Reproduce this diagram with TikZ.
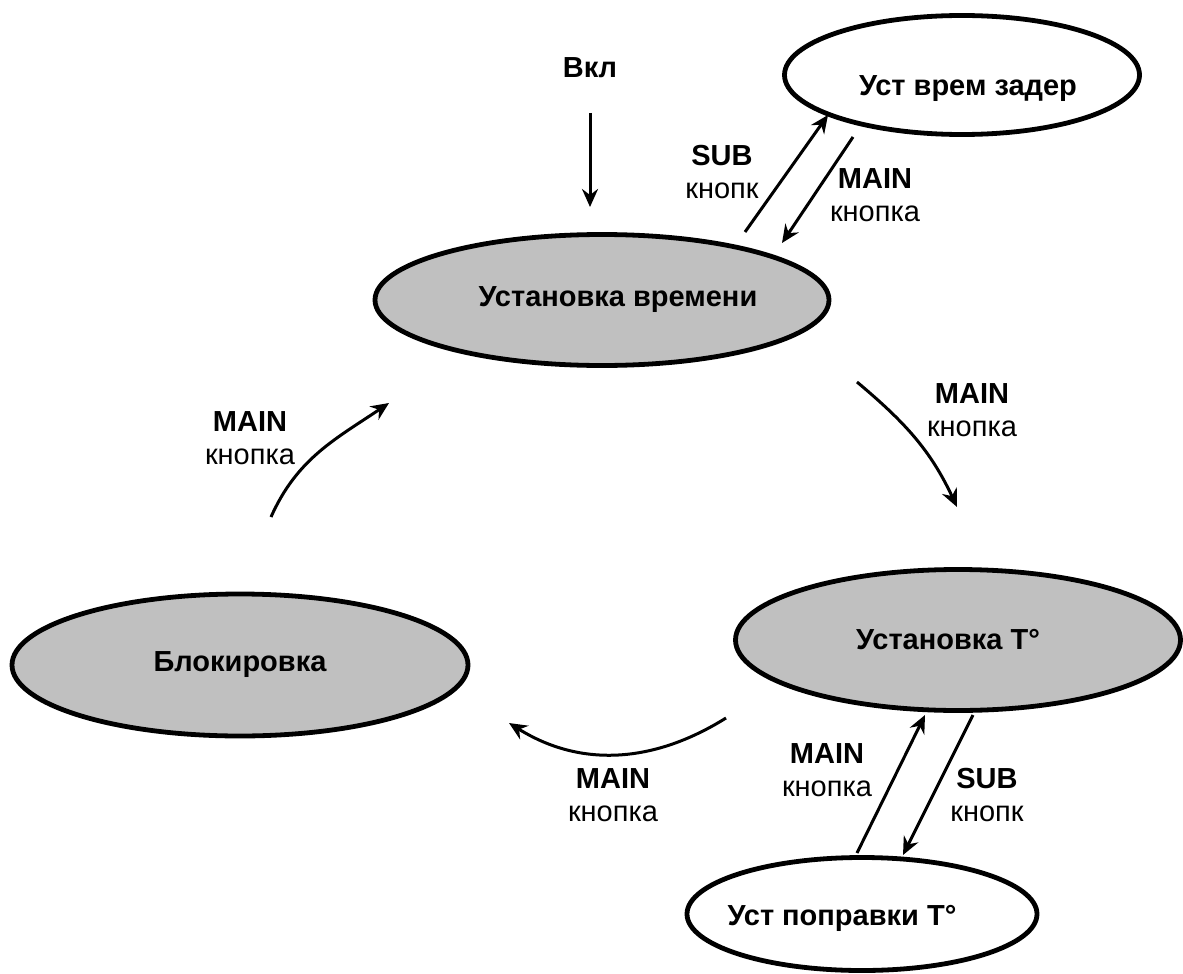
\documentclass[tikz,border=0pt]{standalone}
\usepackage{fontspec}
\setmainfont{Liberation Sans}
\usetikzlibrary{arrows.meta,shapes.geometric}

\definecolor{stategray}{RGB}{192,192,192}
\newcommand{\labfont}{\fontsize{14.5}{16.5}\selectfont}

\tikzset{
  stnode/.style={draw, ellipse, line width=2.4pt, inner sep=0pt},
  active/.style={stnode, fill=stategray},
  arr/.style={line width=1.5pt, -{Stealth[length=9pt,width=8pt,inset=3pt]}},
  lbl/.style={align=center, inner sep=0pt, font=\labfont},
  every label/.style={font=\labfont\bfseries, inner sep=0pt}
}

\begin{document}
\begin{tikzpicture}[x=0.5pt, y=-0.5pt]
\useasboundingbox (0,0) rectangle (1183,974);

% States
\node[active, minimum width=227pt, minimum height=65.5pt, label={[xshift=8pt]center:Установка времени}] (time) at (602,300) {};
\node[stnode, minimum width=177.5pt, minimum height=59.5pt, label={[xshift=3pt, yshift=-7pt]center:Уст врем задер}] (delay) at (962,75) {};
\node[active, minimum width=222.5pt, minimum height=70.5pt, label={[xshift=-5pt]center:Установка T°}] (temp) at (958,640) {};
\node[active, minimum width=228pt, minimum height=71pt, label={center:Блокировка}] (lock) at (240,665) {};
\node[stnode, minimum width=175pt, minimum height=56.5pt, label={[xshift=-10pt, yshift=-2pt]center:Уст поправки T°}] (corr) at (862,914) {};
\node[lbl, font=\labfont\bfseries] (vkl) at (590,68) {Вкл};

% Labels
\node[lbl] (subtop) at (722,172) {\textbf{SUB}\\кнопк};
\node[lbl] (maintop) at (875,195) {\textbf{MAIN}\\кнопка};
\node[lbl] (mainright) at (972,410) {\textbf{MAIN}\\кнопка};
\node[lbl] (mainleft) at (250,438) {\textbf{MAIN}\\кнопка};
\node[lbl] (mainlow) at (613,795) {\textbf{MAIN}\\кнопка};
\node[lbl] (mainbot) at (827,770) {\textbf{MAIN}\\кнопка};
\node[lbl] (subbot) at (987,795) {\textbf{SUB}\\кнопк};

% Arrows
\draw[arr] ([shift={(0,45)}]vkl.center) -- ([shift={(-12,-93)}]time.center);
\draw[arr] ([shift={(143,-68)}]time.center) -- ([shift={(-134,40)}]delay.center);
\draw[arr] ([shift={(-109,62)}]delay.center) -- ([shift={(180,-57)}]time.center);
\draw[arr] ([shift={(255,82)}]time.center) to[out=-40, in=115] ([shift={(-1,-133)}]temp.center);
\draw[arr] ([shift={(-232,78)}]temp.center) to[out=-148, in=-32] ([shift={(269,58)}]lock.center);
\draw[arr] ([shift={(31,-148)}]lock.center) to[out=66, in=-146] ([shift={(-213,103)}]time.center);
\draw[arr] ([shift={(-5,-61)}]corr.center) -- ([shift={(-33,75)}]temp.center);
\draw[arr] ([shift={(15,75)}]temp.center) -- ([shift={(41,-59)}]corr.center);

\end{tikzpicture}
\end{document}
